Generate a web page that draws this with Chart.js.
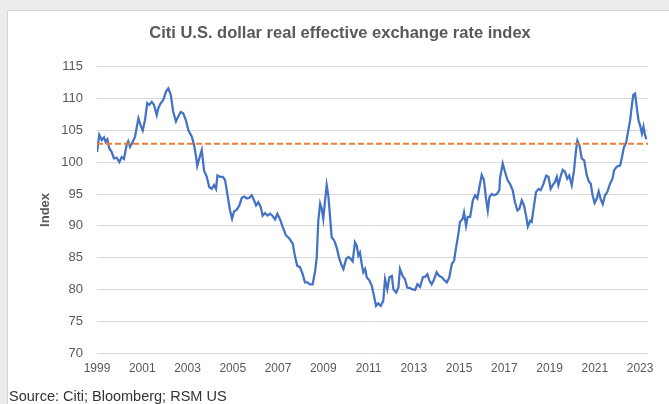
<!DOCTYPE html>
<html>
<head>
<meta charset="utf-8">
<script src="https://cdn.jsdelivr.net/npm/chart.js@4"></script>
<style>
    body { margin: 0; background: #ececec; width: 669px; height: 404px; overflow: hidden; position: relative; font-family: "Liberation Sans", Arial, sans-serif; }
    #frame { position: absolute; left: 7px; top: 10px; width: 662px; height: 394px; background: #fff; border-left: 1px solid #d4d4d4; border-top: 1px solid #d4d4d4; }
    #chartWrap { position: absolute; left: 0; top: 0; width: 669px; height: 404px; }
    #source { position: absolute; left: 9px; top: 388px; font-size: 14.5px; color: #333; }
</style>
</head>
<body>
<div id="frame"></div>
<div id="chartWrap"><canvas id="reerChart" width="669" height="404"></canvas></div>
<div id="source">Source: Citi; Bloomberg; RSM US</div>
<script>
// dates as decimal years
const years = [
    1999.00, 1999.10, 1999.21, 1999.31, 1999.38, 1999.46, 1999.54, 1999.65, 1999.75, 1999.87, 1999.99,
    2000.09, 2000.19, 2000.31, 2000.38, 2000.46, 2000.58, 2000.68, 2000.83, 2000.93,
    2001.02, 2001.12, 2001.22, 2001.31, 2001.42, 2001.52, 2001.64, 2001.71, 2001.82, 2001.93,
    2002.05, 2002.15, 2002.26, 2002.37, 2002.49, 2002.59, 2002.70, 2002.81, 2002.93,
    2003.04, 2003.19, 2003.29, 2003.38, 2003.43, 2003.52, 2003.63, 2003.73, 2003.85, 2003.96,
    2004.07, 2004.17, 2004.26, 2004.32, 2004.44, 2004.56, 2004.66, 2004.76, 2004.88, 2004.97,
    2005.06, 2005.17, 2005.29, 2005.40, 2005.51, 2005.62, 2005.73, 2005.84, 2005.94,
    2006.03, 2006.13, 2006.24, 2006.32, 2006.43, 2006.53, 2006.65, 2006.77, 2006.87, 2006.97,
    2007.09, 2007.21, 2007.35, 2007.50, 2007.65, 2007.75, 2007.85, 2007.97,
    2008.09, 2008.19, 2008.30, 2008.41, 2008.53, 2008.64, 2008.71, 2008.78, 2008.86, 2008.93,
    2009.00, 2009.08, 2009.15, 2009.22, 2009.30, 2009.37, 2009.48, 2009.59, 2009.71, 2009.82, 2009.89,
    2010.01, 2010.11, 2010.21, 2010.30, 2010.40, 2010.48, 2010.55, 2010.62, 2010.70, 2010.77, 2010.85, 2010.92,
    2011.04, 2011.14, 2011.24, 2011.33, 2011.43, 2011.54, 2011.65, 2011.73, 2011.83, 2011.92,
    2012.03, 2012.10, 2012.22, 2012.32, 2012.39, 2012.51, 2012.61, 2012.71, 2012.83, 2012.95,
    2013.06, 2013.16, 2013.28, 2013.40, 2013.50, 2013.60, 2013.69, 2013.79, 2013.90,
    2014.01, 2014.13, 2014.24, 2014.34, 2014.46, 2014.57, 2014.68, 2014.78, 2014.87, 2014.97,
    2015.04, 2015.16, 2015.22, 2015.31, 2015.38, 2015.49, 2015.61, 2015.71, 2015.81, 2015.90,
    2016.00, 2016.10, 2016.19, 2016.27, 2016.34, 2016.45, 2016.55, 2016.67, 2016.78, 2016.81, 2016.93,
    2017.03, 2017.14, 2017.25, 2017.37, 2017.47, 2017.58, 2017.67, 2017.77, 2017.87, 2017.96,
    2018.04, 2018.14, 2018.21, 2018.28, 2018.40, 2018.51, 2018.61, 2018.73, 2018.85, 2018.95,
    2019.05, 2019.14, 2019.24, 2019.32, 2019.39, 2019.50, 2019.58, 2019.68, 2019.78, 2019.87, 2019.98,
    2020.08, 2020.17, 2020.23, 2020.32, 2020.42, 2020.53, 2020.64, 2020.73, 2020.82, 2020.90, 2020.99,
    2021.08, 2021.17, 2021.26, 2021.35, 2021.45, 2021.55, 2021.67, 2021.78, 2021.85, 2021.97,
    2022.12, 2022.20, 2022.29, 2022.38, 2022.48, 2022.56, 2022.63, 2022.70, 2022.78, 2022.85, 2022.93,
    2023.00, 2023.08, 2023.15, 2023.22, 2023.27
];

const indexValues = [
    101.6, 104.3, 103.5, 103.9, 103.2, 103.6, 102.2, 101.6, 100.6, 100.7, 100.0,
    100.8, 100.5, 102.7, 103.3, 102.4, 103.2, 104.0, 106.9, 105.8,
    105.0, 106.6, 109.3, 109.0, 109.5, 109.0, 107.4, 108.5, 109.3, 109.8,
    111.1, 111.6, 110.6, 107.9, 106.4, 107.2, 107.9, 107.7, 106.6,
    105.0, 104.0, 102.7, 100.8, 99.4, 100.6, 101.9, 98.7, 97.7, 96.1,
    95.8, 96.4, 95.8, 97.9, 97.7, 97.7, 97.2, 95.0, 92.4, 91.1,
    92.3, 92.5, 93.2, 94.4, 94.6, 94.3, 94.4, 94.8, 94.0,
    93.2, 93.7, 92.9, 91.6, 92.0, 91.6, 91.9, 91.5, 91.0, 91.9,
    91.0, 89.8, 88.5, 88.0, 87.2, 85.2, 83.7, 83.5,
    82.4, 81.1, 81.1, 80.8, 80.8, 82.9, 85.0, 90.8, 93.5, 92.7,
    91.1, 94.0, 96.4, 94.8, 91.4, 88.2, 87.7, 86.6, 84.8, 83.7, 83.2,
    84.8, 85.1, 84.8, 84.4, 87.4, 86.9, 85.3, 85.8, 84.0, 82.7, 83.2, 81.9,
    81.4, 80.6, 79.0, 77.4, 77.8, 77.4, 78.2, 81.6, 80.0, 81.9,
    82.1, 80.0, 79.5, 80.3, 83.2, 82.1, 81.6, 80.3, 80.2, 80.0,
    79.9, 80.8, 80.4, 81.9, 82.0, 82.4, 81.4, 80.8, 81.6,
    82.7, 82.1, 81.9, 81.5, 81.1, 81.9, 84.0, 84.5, 86.6, 88.7,
    90.6, 91.1, 92.1, 90.0, 91.4, 91.4, 94.0, 94.8, 94.3, 96.1,
    98.0, 97.2, 94.3, 92.4, 94.5, 95.0, 94.8, 95.0, 95.6, 97.5, 99.8,
    98.5, 97.2, 96.6, 95.6, 93.7, 92.4, 92.7, 94.0, 93.2, 91.6,
    89.9, 90.8, 90.6, 92.4, 95.3, 95.8, 95.6, 96.6, 97.9, 97.7,
    95.8, 96.4, 96.9, 97.7, 96.4, 97.9, 98.8, 98.5, 97.4, 97.9, 96.4,
    98.7, 101.9, 103.4, 102.7, 100.6, 100.3, 98.0, 97.0, 96.6, 94.8, 93.6,
    94.2, 95.4, 94.2, 93.4, 94.8, 95.3, 96.6, 97.4, 98.7, 99.3,
    99.5, 100.8, 102.4, 103.0, 105.0, 106.6, 108.7, 110.6, 110.8, 108.7, 106.6,
    105.8, 104.5, 105.6, 104.3, 103.6
];

const averageValue = 102.9;
const xTickYears = [1999, 2001, 2003, 2005, 2007, 2009, 2011, 2013, 2015, 2017, 2019, 2021, 2023];
const yMin = 70;
const yMax = 115;
const xMin = 1999;
const xMax = 2023.35;

const indexPoints = years.map((yr, i) => ({ x: yr, y: indexValues[i] }));
const averagePoints = [{ x: xMin, y: averageValue }, { x: xMax, y: averageValue }];

const ctx = document.getElementById('reerChart').getContext('2d');
new Chart(ctx, {
    type: 'line',
    data: {
        datasets: [
            {
                label: 'Average',
                data: averagePoints,
                borderColor: '#ED7D31',
                borderWidth: 2,
                borderDash: [6, 3],
                pointRadius: 0,
                fill: false
            },
            {
                label: 'Index',
                data: indexPoints,
                borderColor: '#4472C4',
                borderWidth: 2.25,
                pointRadius: 0,
                tension: 0,
                fill: false
            }
        ]
    },
    options: {
        responsive: false,
        animation: false,
        // uneven side padding keeps the title centred where the original has it
        layout: { padding: { left: 32, right: 21, top: 0, bottom: 26 } },
        scales: {
            x: {
                type: 'linear',
                min: xMin,
                max: xMax,
                afterBuildTicks: axis => { axis.ticks = xTickYears.map(v => ({ value: v })); },
                afterFit: scale => { scale.height = 25; },
                grid: { display: false, drawTicks: false },
                border: { display: false },
                ticks: {
                    autoSkip: false,
                    maxRotation: 0,
                    padding: 8,
                    color: '#595959',
                    font: { family: 'Liberation Sans', size: 12 },
                    callback: v => String(v)
                }
            },
            y: {
                min: yMin,
                max: yMax,
                afterFit: scale => { scale.width = 65; },
                grid: { color: '#d9d9d9', lineWidth: 1, drawTicks: false },
                border: { display: false },
                ticks: {
                    stepSize: 5,
                    padding: 14,
                    color: '#595959',
                    font: { family: 'Liberation Sans', size: 13 }
                },
                title: {
                    display: true,
                    text: 'Index',
                    color: '#595959',
                    font: { family: 'Liberation Sans', size: 13, weight: 'bold' },
                    padding: { top: 6, bottom: 0 }
                }
            }
        },
        plugins: {
            legend: { display: false },
            tooltip: { enabled: false },
            title: {
                display: true,
                text: 'Citi U.S. dollar real effective exchange rate index',
                color: '#595959',
                font: { family: 'Liberation Sans', size: 16.5, weight: 'bold' },
                padding: { top: 24, bottom: 23 }
            }
        }
    }
});
</script>
</body>
</html>
